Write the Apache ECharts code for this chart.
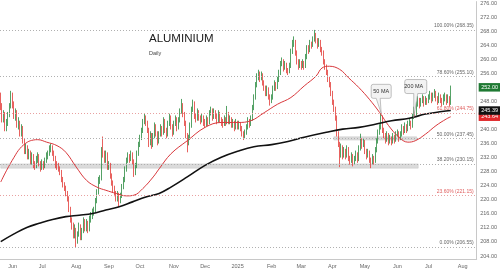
<!DOCTYPE html>
<html><head><meta charset="utf-8">
<script src="https://cdn.jsdelivr.net/npm/echarts@6/dist/echarts.min.js"></script>
<style>html,body{margin:0;padding:0;background:#fff}#c{width:500px;height:280px}</style>
</head><body><div id="c"></div>
<script>
const chartTitle = 'ALUMINIUM';
const chartSubtitle = 'Daily';
const firstDay = '2024-05-22';
const dayCount = 322;
const monthNames = ['Jan','Feb','Mar','Apr','May','Jun','Jul','Aug','Sep','Oct','Nov','Dec'];
const yTickStep = 4;

// [open, close, low, high]
const ohlc = [
[248.0,246.5,245.5,250.5],[246.5,243.0,242.0,247.5],[243.0,244.5,242.0,245.5],[244.5,240.5,239.5,245.0],[240.5,242.0,239.5,243.0],
[242.0,244.0,241.0,245.0],[244.0,246.5,243.5,247.5],[246.5,249.5,246.0,251.0],[249.5,247.0,246.0,250.5],[247.0,244.0,243.0,248.0],
[244.0,245.0,242.5,246.0],[245.0,241.5,240.5,245.5],[241.5,242.0,240.0,243.5],[242.0,239.0,238.0,242.5],[239.0,240.5,238.0,241.5],
[240.5,237.0,236.0,241.0],[237.0,234.0,233.0,237.5],[234.0,235.0,233.0,236.0],[235.0,232.5,231.5,235.5],[232.5,233.5,231.5,234.5],
[233.5,231.0,230.0,234.0],[231.0,232.5,230.0,233.5],[232.5,230.0,229.0,233.0],[230.0,229.5,228.5,231.0],[229.5,231.5,229.0,232.5],
[231.5,232.5,230.5,233.5],[232.5,230.5,229.5,233.0],[230.5,229.0,228.0,231.0],[229.0,230.5,228.5,231.5],[230.5,229.5,228.5,231.0],
[229.5,231.0,229.0,232.0],[231.0,232.5,230.5,233.5],[232.5,233.0,231.5,234.0],[233.0,234.5,232.5,235.5],[234.5,235.0,233.5,236.0],
[235.0,233.5,232.5,235.5],[233.5,232.0,231.0,234.0],[232.0,230.0,229.0,232.5],[230.0,229.5,228.5,231.0],[229.5,229.0,228.0,230.5],
[229.0,228.0,227.0,229.5],[228.0,226.0,225.0,228.5],[226.0,224.5,223.5,226.5],[224.5,223.5,222.5,225.0],[223.5,222.0,221.0,224.0],
[222.0,220.5,219.5,222.5],[220.5,217.5,216.5,221.0],[217.5,214.5,213.5,218.0],[214.5,213.0,211.5,215.0],[213.0,210.0,209.0,213.5],
[210.0,211.5,209.0,213.0],[211.5,208.5,206.55,212.0],[208.5,210.0,207.5,211.0],[210.0,212.5,209.5,213.5],[212.5,209.5,208.5,213.0],
[209.5,211.0,208.5,212.0],[211.0,214.0,210.5,215.0],[214.0,212.0,211.0,214.5],[212.0,213.5,211.0,214.5],[213.5,211.5,210.5,214.0],
[211.5,214.5,211.0,215.5],[214.5,215.5,213.5,216.5],[215.5,216.5,214.5,217.5],[216.5,217.0,215.5,218.0],[217.0,219.5,216.5,220.5],
[219.5,222.0,219.0,223.0],[222.0,225.5,221.5,226.5],[225.5,226.0,224.5,227.0],[226.0,234.0,225.5,235.0],[237.5,232.5,232.0,238.0],
[233.0,231.5,230.5,234.0],[231.5,233.0,230.5,234.0],[233.0,229.5,228.5,233.5],[229.5,230.0,228.5,231.0],[230.0,227.0,226.0,230.5],
[227.0,225.0,224.0,227.5],[225.0,223.0,222.0,225.5],[223.0,222.0,221.0,224.0],[222.0,220.5,219.5,222.5],[220.5,221.5,219.5,222.5],
[221.5,219.5,218.0,222.0],[219.5,221.0,219.0,222.0],[221.0,223.5,220.5,224.5],[223.5,225.5,223.0,226.5],[225.5,228.5,225.0,229.5],
[228.5,231.0,228.0,232.0],[231.0,232.5,230.5,233.5],[232.5,231.5,230.5,233.0],[231.5,233.0,231.0,234.0],[233.0,231.0,230.0,233.5],
[231.0,227.5,226.5,231.5],[227.5,229.5,227.0,230.5],[229.5,233.0,229.0,234.0],[233.0,235.5,232.5,236.5],[235.5,237.5,235.0,238.5],
[237.5,239.5,237.0,240.5],[239.5,242.0,239.0,243.0],[242.0,243.5,241.5,244.5],[243.5,242.0,241.0,244.0],[242.0,240.0,239.0,242.5],
[240.0,236.0,235.0,240.5],[236.0,238.5,235.5,239.5],[238.5,235.5,234.5,239.0],[235.5,238.0,235.0,239.0],[238.0,241.0,237.5,242.0],
[241.0,239.0,238.0,241.5],[239.0,236.5,235.5,239.5],[236.5,238.5,236.0,239.5],[238.5,240.5,238.0,241.5],[240.5,239.0,238.0,241.0],
[239.0,242.5,238.5,243.5],[242.5,240.0,239.0,243.0],[240.0,238.5,237.5,240.5],[238.5,241.5,238.0,242.5],[241.5,243.5,241.0,244.5],
[243.5,241.0,240.0,244.0],[241.0,239.0,238.0,241.5],[239.0,241.5,238.5,242.5],[241.5,243.0,241.0,244.0],[243.0,240.5,239.5,243.5],
[240.5,242.5,240.0,243.5],[242.5,245.0,242.0,246.0],[245.0,247.0,244.5,248.7],[247.0,244.5,243.5,247.5],[244.5,242.0,241.0,245.0],
[242.0,238.5,237.5,242.5],[238.5,236.5,233.5,239.0],[236.5,237.5,235.5,238.5],[237.5,241.0,237.0,242.0],[241.0,245.5,240.5,246.5],
[245.5,247.5,245.0,248.5],[247.5,244.0,243.0,248.0],[244.0,243.0,242.0,244.5],[243.0,245.0,242.5,246.0],[245.0,243.5,242.5,245.5],
[243.5,242.5,241.5,244.0],[242.5,243.5,242.0,244.5],[243.5,242.0,241.0,244.0],[242.0,241.5,240.5,243.0],[241.5,243.0,241.0,244.0],
[243.0,242.0,241.0,243.5],[242.0,244.5,241.5,245.5],[244.5,245.5,244.0,246.5],[245.5,243.5,242.5,246.0],[243.5,245.0,243.0,246.0],
[245.0,244.0,243.0,245.5],[244.0,242.5,241.5,244.5],[242.5,244.5,242.0,245.5],[244.5,243.0,242.0,245.0],[243.0,242.0,241.0,243.5],
[242.0,241.5,240.5,243.0],[241.5,243.0,241.0,244.0],[243.0,242.0,241.0,243.5],[242.0,244.5,241.5,246.7],[244.5,242.5,241.5,245.0],
[242.5,243.0,241.5,244.0],[243.0,241.5,240.5,243.5],[241.5,242.0,240.5,243.0],[242.0,240.5,239.5,242.5],[240.5,242.0,240.0,243.0],
[242.0,241.0,240.0,242.5],[241.0,241.5,240.0,242.5],[241.5,240.5,239.5,242.0],[240.5,239.0,238.0,241.0],[239.0,238.0,237.0,239.5],
[238.0,239.0,237.5,240.0],[239.0,240.5,238.5,241.5],[240.5,242.5,240.0,243.5],[242.5,241.5,240.5,243.0],[241.5,243.0,241.0,244.0],
[243.0,246.0,242.5,247.0],[246.0,249.0,245.5,250.0],[249.0,252.5,248.5,253.5],[252.5,255.0,252.0,256.0],[255.0,256.0,254.0,257.0],
[256.0,254.5,253.5,256.5],[254.5,255.5,254.0,256.5],[255.5,253.5,252.5,256.0],[253.5,252.0,251.0,254.0],[252.0,250.5,249.5,252.5],
[250.5,251.5,249.5,252.5],[251.5,249.5,248.5,252.0],[249.5,248.0,246.8,250.0],[248.0,249.0,247.5,250.0],[249.0,251.5,248.5,252.5],
[251.5,253.0,251.0,254.0],[253.0,252.0,251.0,253.5],[252.0,254.0,251.5,255.0],[254.0,256.0,253.5,257.0],[256.0,258.5,255.5,259.5],
[258.5,259.5,258.0,260.5],[259.5,257.5,256.5,260.0],[257.5,258.5,257.0,259.5],[258.5,257.0,256.0,259.0],[257.0,256.5,255.5,257.5],
[256.5,258.0,256.0,259.0],[258.0,262.0,257.5,263.0],[262.0,264.5,261.5,265.5],[264.5,265.0,263.5,266.5],[265.0,262.0,261.0,265.5],
[262.0,259.5,258.5,262.5],[259.5,258.0,257.0,260.0],[258.0,259.0,257.5,260.0],[259.0,258.0,257.0,259.5],[258.0,259.0,257.5,260.0],
[259.0,258.0,257.0,259.5],[258.0,260.5,257.5,261.5],[260.5,263.0,260.0,264.0],[263.0,262.5,261.5,264.0],[262.5,264.5,262.0,265.5],
[264.5,264.0,263.0,265.0],[264.0,265.5,263.5,266.5],[265.5,267.0,265.0,268.35],[267.0,265.5,264.5,267.5],[265.5,264.0,263.0,266.0],
[264.0,265.0,263.5,266.0],[265.0,263.0,262.0,265.5],[263.0,262.0,261.0,263.5],[262.0,259.5,258.5,262.5],[259.5,258.0,257.0,260.0],
[258.0,256.5,255.5,258.5],[256.5,254.5,253.5,257.0],[254.5,253.0,252.0,255.0],[253.0,250.5,249.5,253.5],[250.5,248.0,247.0,251.0],
[248.0,246.0,245.0,248.5],[246.0,243.5,242.5,246.5],[243.5,239.0,238.0,244.0],[239.0,236.0,235.0,239.5],[236.0,233.0,229.3,236.5],
[233.0,235.0,232.0,236.0],[235.0,232.5,231.5,235.5],[232.5,234.0,232.0,235.0],[234.0,232.5,231.5,234.5],[232.5,234.5,232.0,235.5],
[234.5,232.0,231.0,235.0],[232.0,231.0,230.0,232.5],[231.0,232.5,230.5,233.5],[232.5,230.5,229.5,233.0],[230.5,231.5,230.0,232.5],
[231.5,233.0,231.0,234.0],[233.0,231.5,230.5,233.5],[231.5,234.5,231.0,235.5],[234.5,237.0,234.0,238.8],[237.0,235.5,234.5,237.5],
[235.5,236.5,235.0,237.5],[236.5,234.0,233.0,237.0],[234.0,232.5,231.5,234.5],[232.5,233.5,232.0,234.5],[233.5,231.5,230.5,234.0],
[231.5,230.5,229.0,232.0],[230.5,232.0,230.0,233.0],[232.0,231.0,230.0,232.5],[231.0,234.0,230.5,235.0],[234.0,236.5,233.5,237.5],
[236.5,239.0,236.0,240.0],[239.0,240.5,238.5,241.5],[240.5,243.5,240.0,244.5],[243.5,240.0,239.0,244.0],[240.0,238.5,237.5,240.5],
[238.5,237.0,236.0,239.0],[237.0,238.5,236.5,239.5],[238.5,236.5,235.5,239.0],[236.5,237.5,236.0,238.5],[237.5,236.5,235.5,238.0],
[236.5,238.0,236.0,239.0],[238.0,237.0,236.0,238.5],[237.0,238.5,236.5,239.5],[238.5,239.0,238.0,240.0],[239.0,237.5,236.5,239.5],
[237.5,238.5,237.0,239.5],[238.5,240.5,238.0,241.5],[240.5,239.5,238.5,241.0],[239.5,241.0,239.0,242.0],[241.0,240.0,239.0,241.5],
[240.0,241.5,239.5,242.5],[241.5,242.0,241.0,243.0],[242.0,241.0,240.0,242.5],[241.0,243.5,240.5,244.5],[243.5,245.5,243.0,246.5],
[245.5,244.5,243.5,246.0],[244.5,247.0,244.0,248.0],[247.0,248.5,246.5,249.5],[248.5,247.0,246.0,249.0],[247.0,248.0,246.5,249.0],
[248.0,249.0,247.5,250.0],[249.0,247.5,246.5,249.5],[247.5,248.5,247.0,249.5],[248.5,248.0,247.0,249.0],[248.0,249.0,247.5,250.0],
[249.0,250.0,248.5,251.0],[250.0,248.5,247.5,250.5],[248.5,249.5,248.0,250.5],[249.5,250.5,249.0,251.5],[250.5,249.0,248.0,251.0],
[249.0,248.0,247.0,249.5],[248.0,249.5,247.5,250.5],[249.5,248.5,247.5,250.0],[248.5,247.5,246.5,249.0],[247.5,249.0,247.0,250.0],
[249.0,249.5,248.0,250.5],[249.5,248.0,247.0,250.0],[248.0,249.0,247.5,250.0],[249.0,247.5,246.5,249.5],[247.5,252.0,247.0,252.5]
];

// [day index, value]
const ma50 = [
[0,225.05],[4,228.4],[9,232.1],[13,234.6],[18,236.4],[22,237.0],[25,237.1],[31,236.4],[38,235.4],[44,233.5],
[51,229.3],[58,225.5],[65,223.6],[71,222.7],[78,221.8],[85,221.1],[90,221.3],[96,223.2],[103,226.5],[107,228.8],
[115,233.1],[126,236.8],[138,240.6],[149,242.0],[160,242.0],[169,242.5],[178,244.8],[187,247.2],[196,249.1],[205,252.4],
[213,255.2],[217,257.5],[222,258.0],[229,257.1],[235,254.7],[242,251.9],[249,248.6],[256,244.8],[262,241.1],[269,237.8],
[275,236.4],[280,236.8],[287,238.7],[294,241.1],[301,243.0],[304,243.64]
];
const ma200 = [
[0,208.1],[9,210.3],[18,212.2],[26,213.3],[35,214.4],[44,215.2],[53,215.6],[62,216.1],[71,217.1],[80,218.0],
[89,219.4],[98,220.8],[107,221.8],[115,223.6],[126,226.5],[138,229.8],[149,232.1],[160,233.8],[171,235.1],[183,235.7],
[194,236.6],[205,237.8],[220,239.2],[231,240.1],[242,240.6],[253,241.5],[264,242.5],[276,243.2],[287,244.4],[298,245.1],[304,245.39]
];

const fibLevels = [268.35, 255.10, 244.75, 237.45, 230.15, 221.15, 206.55];
const fibNames = ['100.00% (268.35)','78.60% (255.10)','61.80% (244.75)','50.00% (237.45)','38.20% (230.15)','23.60% (221.15)','0.00% (206.55)'];
const fibIsKey = [false,false,true,false,false,true,false];

// [from day index, to day index, low price, high price]
const supportZones = [[0,282,229.0,230.2],[225,281,237.0,237.9]];

// annotation anchors [day index, price]
const ma50Callout = [257, 244.6];
const ma200Callout = [279, 243.4];

const dates = [];
(function(){
  const d = new Date(firstDay + 'T00:00:00Z');
  while (dates.length < dayCount) {
    const wd = d.getUTCDay();
    if (wd !== 0 && wd !== 6) dates.push(d.toISOString().slice(0,10));
    d.setUTCDate(d.getUTCDate() + 1);
  }
})();

const GREEN = '#2a8a3f', RED = '#e23a36', FONT = 'Liberation Sans';
const lastClose = ohlc[ohlc.length-1][1];
const lastMa50 = ma50[ma50.length-1][1];
const lastMa200 = ma200[ma200.length-1][1];

function tag(v, bg){
  return {yAxis: v, lineStyle:{color:'rgba(0,0,0,0)', width:0.1}, label:{show:true, position:'end', distance:2, formatter: v.toFixed(2),
    color:'#fff', backgroundColor:bg, fontSize:5.5, fontFamily:FONT, padding:[1.5,2.5,1,2.5]}};
}

const chart = echarts.init(document.getElementById('c'), null, {renderer:'canvas'});
chart.setOption({
  animation:false,
  backgroundColor:'#fff',
  title:{text:chartTitle, subtext:chartSubtitle, left:149, top:33, itemGap:5, padding:0,
    textStyle:{fontSize:11.5, fontWeight:'normal', color:'#1a1a1a', fontFamily:FONT},
    subtextStyle:{fontSize:5.5, color:'#444', fontFamily:FONT}},
  grid:{left:0, right:22.3, top:0, bottom:20.5},
  xAxis:{type:'category', data:dates, boundaryGap:true,
    axisLine:{lineStyle:{color:'#c8c8c8'}}, axisTick:{show:false}, splitLine:{show:false},
    axisLabel:{fontSize:5.5, color:'#666', fontFamily:FONT, margin:4,
      interval:function(i){ return i>0 && dates[i].slice(5,7)!==dates[i-1].slice(5,7); },
      formatter:function(v){ const m=+v.slice(5,7); return m===1 ? v.slice(0,4) : monthNames[m-1]; }}},
  yAxis:{type:'value', position:'right', min:203, max:276.4, interval:1, scale:true,
    axisLine:{show:true, lineStyle:{color:'#c8c8c8'}}, axisTick:{show:false}, splitLine:{show:false},
    axisLabel:{fontSize:5.5, color:'#666', fontFamily:FONT, margin:3.5,
      formatter:function(v){ return (Math.round(v)%yTickStep===0) ? v.toFixed(2) : ''; }}},
  series:[
    {type:'candlestick', data:ohlc, barWidth:1.1, clip:false,
      itemStyle:{color:GREEN, color0:RED, borderColor:GREEN, borderColor0:RED, borderWidth:0.8},
      markArea:{silent:true, itemStyle:{color:'rgba(195,195,195,0.6)', borderColor:'#c4c4c4', borderWidth:0.5},
        data: supportZones.map(z=>[{xAxis:dates[z[0]], yAxis:z[2]},{xAxis:dates[z[1]], yAxis:z[3]}])},
      markLine:{symbol:['none','none'], silent:true, animation:false,
        data: fibLevels.map((v,k)=>({yAxis:v, name:fibNames[k],
          lineStyle:{color: fibIsKey[k] ? '#e8a0a0' : '#b0b0b0', type:[1,2], width:1},
          label:{show:true, position:'insideEndTop', formatter:'{b}', distance:[3,1.5],
            color: fibIsKey[k] ? '#e06060' : '#666', fontSize:5, fontFamily:FONT}})).concat([tag(lastClose, '#1f7a33')])}
    },
    {type:'line', name:'50 MA', data:ma50, smooth:0.4, showSymbol:false, clip:false,
      lineStyle:{color:'#d9383c', width:1}, z:3,
      markLine:{symbol:['none','none'], silent:true, data:[tag(lastMa50, '#e0282b')]},
      markPoint:{silent:true, data:[{coord:ma50Callout}], symbol:'path://M2,0 L18,0 Q20,0 20,2 L20,12 Q20,14 18,14 L9,14 L10,29 L5,14 L2,14 Q0,14 0,12 L0,2 Q0,0 2,0 Z',
        symbolSize:[20,29], symbolOffset:[0,-14.5],
        itemStyle:{color:'#f3f3f3', borderColor:'#9a9a9a', borderWidth:0.6},
        label:{show:true, position:'inside', offset:[0,-7.5], formatter:'50 MA', fontSize:5.5, color:'#333', fontFamily:FONT}}
    },
    {type:'line', name:'200 MA', data:ma200, smooth:0.4, showSymbol:false, clip:false,
      lineStyle:{color:'#111', width:1.6}, z:4,
      markLine:{symbol:['none','none'], silent:true, data:[tag(lastMa200, '#111')]},
      markPoint:{silent:true, data:[{coord:ma200Callout}], symbol:'path://M2,0 L20,0 Q22,0 22,2 L22,12 Q22,14 20,14 L13,14 L9,38 L9,14 L2,14 Q0,14 0,12 L0,2 Q0,0 2,0 Z',
        symbolSize:[22,38], symbolOffset:[2,-19],
        itemStyle:{color:'#f3f3f3', borderColor:'#9a9a9a', borderWidth:0.6},
        label:{show:true, position:'inside', offset:[-2,-12], formatter:'200 MA', fontSize:5.5, color:'#333', fontFamily:FONT}}
    }
  ]
});
</script>
</body></html>
